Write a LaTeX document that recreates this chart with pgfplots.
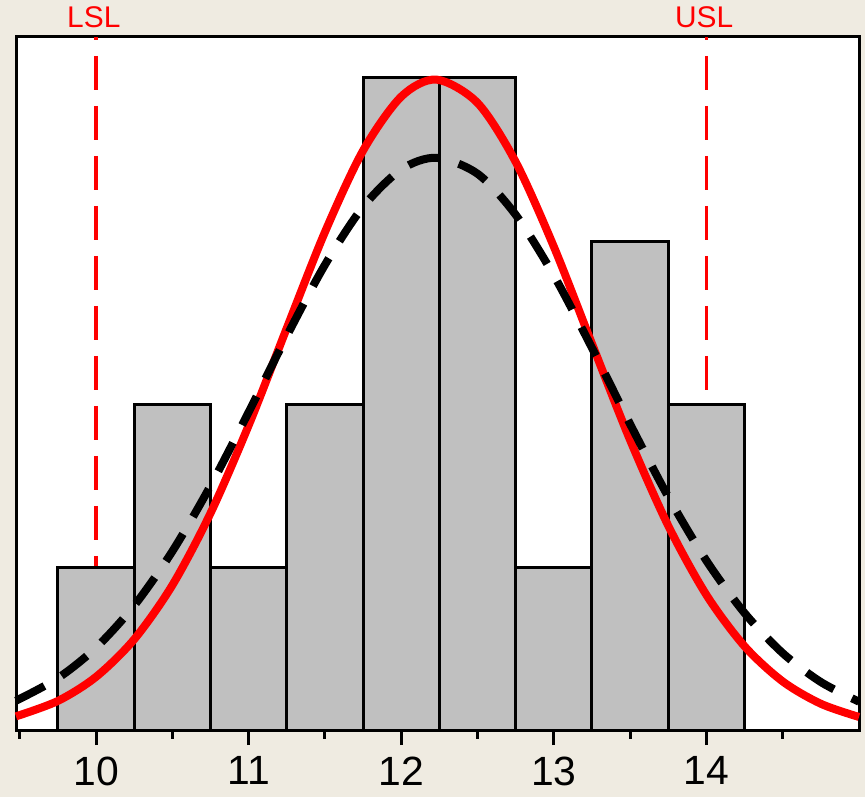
\documentclass[border=0pt]{standalone}
\usepackage{fontspec}
\setmainfont{Liberation Sans}
\usepackage{pgfplots}
\pgfplotsset{compat=1.18}
\definecolor{bg}{HTML}{EFEBE1}
\definecolor{bargray}{HTML}{C0C0C0}

\begin{document}
\begin{tikzpicture}[x=1bp,y=1bp]
\fill[bg] (0,0) rectangle (865,797);
\begin{axis}[
  at={(16bp,66bp)}, anchor=south west,
  scale only axis, width=843bp, height=694bp,
  xmin=9.475, xmax=15.0, ymin=0, ymax=4.25,
  clip=false,
  axis background/.style={fill=white},
  axis line style={line width=3bp, black},
  ytick=\empty,
  xtick={10,11,12,13,14},
  minor xtick={9.5,10.5,11.5,12.5,13.5,14.5},
  xtick pos=bottom,
  tick align=outside,
  major tick length=14bp, minor tick length=8bp,
  every tick/.style={black, line width=3bp},
  /pgf/number format/assume math mode=true,
  xticklabel style={font=\fontsize{41}{46}\selectfont, yshift=-8bp},
]
% spec limits
\addplot[red, line width=3.5bp, dash pattern=on 34bp off 16bp, dash phase=31bp] coordinates {(10,4.25) (10,0)};
\addplot[red, line width=3.5bp, dash pattern=on 34bp off 16bp, dash phase=31bp] coordinates {(14,4.25) (14,0)};
% histogram
\addplot[ybar interval, fill=bargray, draw=black, line width=3bp] coordinates {
  (9.75,1) (10.25,2) (10.75,1) (11.25,2) (11.75,4) (12.25,4) (12.75,1) (13.25,3) (13.75,2) (14.25,2)
};
% within fit
\addplot[red, line width=8bp, smooth] coordinates {
  (9.475,0.0897) (9.75,0.1843) (10.0,0.3319) (10.25,0.5618) (10.5,0.8933)
  (10.75,1.3343) (11.0,1.8721) (11.25,2.4679) (11.5,3.0559) (11.75,3.5549)
  (12.0,3.8849) (12.23,3.989) (12.5,3.8462) (12.75,3.4846) (13.0,2.9656)
  (13.25,2.3711) (13.5,1.7809) (13.75,1.2565) (14.0,0.8329) (14.25,0.5186)
  (14.5,0.3033) (14.75,0.1667) (15.0,0.0860)
};
% overall fit
\addplot[black, line width=8bp, smooth, dash pattern=on 32bp off 20bp] coordinates {
  (9.475,0.1854) (9.75,0.3240) (10.0,0.5110) (10.25,0.7684) (10.5,1.1008)
  (10.75,1.5022) (11.0,1.9531) (11.25,2.4194) (11.5,2.8552) (11.75,3.2102)
  (12.0,3.4388) (12.23,3.51) (12.5,3.4123) (12.75,3.1609) (13.0,2.7897)
  (13.25,2.3456) (13.5,1.8790) (13.75,1.4340) (14.0,1.0427) (14.25,0.7223)
  (14.5,0.4767) (14.75,0.2998) (15.0,0.1796)
};
\node[red, anchor=base, font=\fontsize{30}{34}\selectfont] at (axis cs:9.985,4.25) [yshift=9bp] {LSL};
\node[red, anchor=base, font=\fontsize{30}{34}\selectfont] at (axis cs:13.985,4.25) [yshift=9bp] {USL};
\end{axis}
\end{tikzpicture}
\end{document}
